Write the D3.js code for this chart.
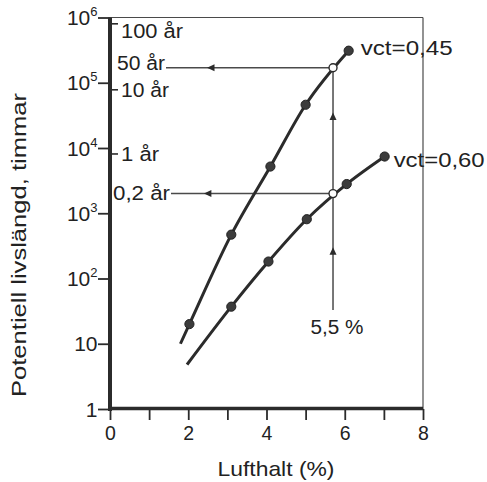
<!DOCTYPE html>
<html><head><meta charset="utf-8">
<script src="https://cdn.jsdelivr.net/npm/d3@7"></script>
<style>
html,body{margin:0;padding:0;background:#fff;}
svg{display:block;font-family:"Liberation Sans",Arial,Helvetica,sans-serif;}
</style></head>
<body><svg id="chart" width="487" height="482"></svg>
<script>
// ---- data ----
const xTicks = [0,1,2,3,4,5,6,7,8];
const xTickLabels = ["0","","2","","4","","6","","8"];
const yTicks = [1,10,100,1000,10000,100000,1000000];
const yTickExp = ["","","2","3","4","5","6"];
const yTickBase = ["1","10","10","10","10","10","10"];
const yearHours = [800000, 78000, 8100];
const yearLabels = ["100 år","10 år","1 år"];
const yearLabelLen = [62, 48, 38];

const series045Name = "vct=0,45";
const curve045X = [1.8, 2.03, 3.1, 4.1, 5.0, 6.1];
const curve045Y = [10, 20, 470, 5200, 46000, 310000];
const marker045 = [false, true, true, true, true, true];

const series060Name = "vct=0,60";
const curve060X = [1.97, 3.1, 4.05, 5.03, 6.05, 7.02];
const curve060Y = [4.8, 37, 182, 810, 2800, 7400];
const marker060 = [false, true, true, true, true, true];

const refX = 5.7;           // vertical reference line (air content)
const refLabel = "5,5 %";
const refBottom = 33;
const refHits = [170000, 2000];
const refHitLabels = ["50 år", "0,2 år"];
const refHitLabelLen = [48, 57];
const upArrowAt = [35000, 300];
const leftArrowAt = [2.48, 2.4];

// ---- layout ----
const svg = d3.select("#chart");
const x = d3.scaleLinear().domain([0,8]).range([110,423]);
const y = d3.scaleLog().domain([1,1e6]).range([409,17.5]);
const dark = "#2b2b2b", mid = "#4a4a4a";
const ADJ = "spacingAndGlyphs";

svg.append("rect").attr("width",487).attr("height",482).attr("fill","#fff");

// frame top and right (thin)
svg.append("line").attr("x1",x(0)).attr("x2",x(8)).attr("y1",y(1e6)).attr("y2",y(1e6))
  .attr("stroke",mid).attr("stroke-width",1.2);
svg.append("line").attr("x1",x(8)).attr("x2",x(8)).attr("y1",y(1e6)).attr("y2",y(1))
  .attr("stroke",mid).attr("stroke-width",1.2);

// x axis
const xAxis = d3.axisBottom(x).tickValues(xTicks).tickSize(11).tickPadding(4)
  .tickFormat((d,i)=>xTickLabels[i]);
const gx = svg.append("g").attr("transform",`translate(0,${y(1)})`).call(xAxis);
gx.select(".domain").remove();
gx.selectAll(".tick line").attr("stroke",dark).attr("stroke-width",1.8);
gx.selectAll(".tick text").attr("font-size",19.5).attr("fill","#222").attr("dy","0.8em")
  .attr("font-family","'Liberation Sans',Arial,sans-serif");

// y axis ticks (left)
const yAxis = d3.axisLeft(y).tickValues(yTicks).tickSize(12).tickFormat("");
const gy = svg.append("g").attr("transform",`translate(${x(0)},0)`).call(yAxis);
gy.select(".domain").remove();
gy.selectAll(".tick line").attr("stroke",dark).attr("stroke-width",1.8);

// y tick labels with superscript
yTicks.forEach((v,i)=>{
  const t = svg.append("text").attr("x",97.5).attr("y",y(v)+7.5)
    .attr("text-anchor","end").attr("font-size",21).attr("fill","#222");
  t.append("tspan").text(yTickBase[i]);
  if (yTickExp[i]) t.append("tspan").attr("font-size",13).attr("dy",-9).text(yTickExp[i]);
});

// right-pointing year ticks
yearHours.forEach((h,i)=>{
  svg.append("line").attr("x1",x(0)).attr("x2",x(0)+8).attr("y1",y(h)).attr("y2",y(h))
    .attr("stroke",dark).attr("stroke-width",1.6);
  svg.append("text").attr("x",x(0)+11).attr("y",y(h)+ (i===0?14:7))
    .attr("font-size",19.5).attr("fill","#222")
    .attr("textLength",yearLabelLen[i]).attr("lengthAdjust",ADJ)
    .text(yearLabels[i]);
});

// axis main lines (thick)
svg.append("line").attr("x1",x(0)).attr("x2",x(0)).attr("y1",y(1e6)).attr("y2",y(1)+2)
  .attr("stroke",dark).attr("stroke-width",4);
svg.append("line").attr("x1",x(0)-2).attr("x2",x(8)).attr("y1",y(1)-0.5).attr("y2",y(1)-0.5)
  .attr("stroke",dark).attr("stroke-width",3.5);

// axis titles
svg.append("text").attr("x",276).attr("y",476).attr("text-anchor","middle")
  .attr("font-size",21).attr("fill","#222")
  .attr("textLength",117).attr("lengthAdjust",ADJ).text("Lufthalt (%)");
svg.append("text").attr("transform","translate(26,245) rotate(-90)")
  .attr("text-anchor","middle").attr("font-size",20.5).attr("fill","#222")
  .attr("textLength",304).attr("lengthAdjust",ADJ).text("Potentiell livslängd, timmar");

// reference annotation lines
function arrow(cx, cy, dir){
  const L=7.5, W=3.5;
  let pts;
  if (dir==="left") pts=[[cx,cy],[cx+L,cy-W],[cx+L,cy+W]];
  else pts=[[cx,cy],[cx-W,cy+L],[cx+W,cy+L]];
  svg.append("path").attr("d","M"+pts.map(p=>p.join(",")).join("L")+"Z").attr("fill",dark);
}
svg.append("line").attr("x1",x(refX)).attr("x2",x(refX)).attr("y1",y(refHits[0])).attr("y2",y(refBottom))
  .attr("stroke",mid).attr("stroke-width",1.5);
upArrowAt.forEach(v=>arrow(x(refX), y(v), "up"));
svg.append("text").attr("x",x(refX)+4).attr("y",334).attr("text-anchor","middle")
  .attr("font-size",20).attr("fill","#222")
  .attr("textLength",53).attr("lengthAdjust",ADJ).text(refLabel);

refHits.forEach((v,i)=>{
  const lx = i===0 ? 117 : 113;
  const by = y(v) + (i===0 ? 2.5 : 6);
  svg.append("text").attr("x",lx).attr("y",by).attr("font-size",19.5).attr("fill","#222")
    .attr("textLength",refHitLabelLen[i]).attr("lengthAdjust",ADJ).text(refHitLabels[i]);
  svg.append("line").attr("x1",lx+refHitLabelLen[i]+1).attr("x2",x(refX)).attr("y1",y(v)).attr("y2",y(v))
    .attr("stroke",mid).attr("stroke-width",1.5);
  arrow(x(leftArrowAt[i]), y(v), "left");
});

// curves
const line = d3.line().x(d=>x(d[0])).y(d=>y(d[1])).curve(d3.curveMonotoneX);
function drawSeries(xs, ys, marks, name, lab){
  const pts = xs.map((v,i)=>[v, ys[i], marks[i]]);
  svg.append("path").datum(pts).attr("d",line).attr("fill","none")
    .attr("stroke",dark).attr("stroke-width",3);
  svg.selectAll(null).data(pts.filter(p=>p[2])).enter().append("circle")
    .attr("cx",d=>x(d[0])).attr("cy",d=>y(d[1])).attr("r",4.6)
    .attr("fill","#3c3c3c").attr("stroke","#222").attr("stroke-width",1);
  const last = pts[pts.length-1];
  svg.append("text").attr("x",x(last[0])+lab.dx).attr("y",y(last[1])+lab.dy)
    .attr("font-size",20).attr("fill","#222")
    .attr("textLength",lab.len).attr("lengthAdjust",ADJ).text(name);
}
drawSeries(curve045X, curve045Y, marker045, series045Name, {dx:12, dy:4, len:92});
drawSeries(curve060X, curve060Y, marker060, series060Name, {dx:9, dy:10, len:91});

// hollow intersection circles
refHits.forEach(v=>{
  svg.append("circle").attr("cx",x(refX)).attr("cy",y(v)).attr("r",4)
    .attr("fill","#fff").attr("stroke",dark).attr("stroke-width",1.4);
});
</script></body></html>
